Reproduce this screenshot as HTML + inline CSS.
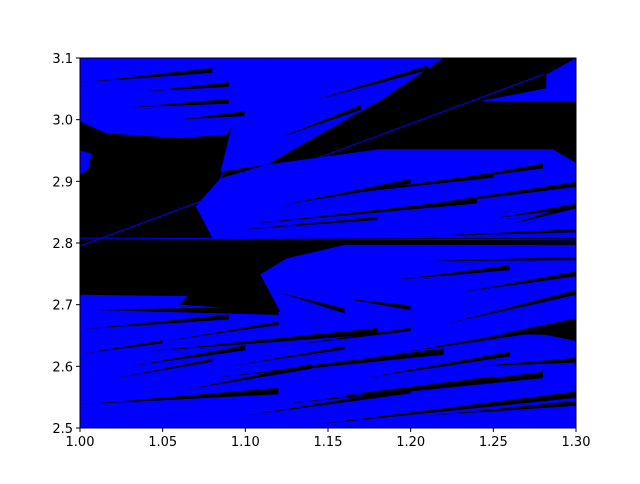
<!DOCTYPE html>
<html><head><meta charset="utf-8"><style>
body{margin:0;background:#fff;width:640px;height:480px;overflow:hidden;font-family:"DejaVu Sans","Liberation Sans",sans-serif}
svg text{font-family:"DejaVu Sans","Liberation Sans",sans-serif;font-size:13px;fill:#000}
</style></head><body>
<svg id="chart" width="640" height="480" xmlns="http://www.w3.org/2000/svg"></svg>
<script>
const xTicks=[1.00,1.05,1.10,1.15,1.20,1.25,1.30];
const xTickLabels=["1.00","1.05","1.10","1.15","1.20","1.25","1.30"];
const yTicks=[2.5,2.6,2.7,2.8,2.9,3.0,3.1];
const yTickLabels=["2.5","2.6","2.7","2.8","2.9","3.0","3.1"];
const regionA=[[1.0,3.1],[1.113,3.1],[1.095,3.003],[1.089,2.976],[1.06,2.97],[1.016,2.978],[1.0,2.997]];
const regionB=[[1.093,3.003],[1.113,3.1],[1.22,3.1],[1.181,3.03],[1.141,2.97],[1.113,2.927],[1.085,2.916]];
const regionC=[[1.07,2.86],[1.085,2.905],[1.113,2.927],[1.181,2.952],[1.286,2.952],[1.3,2.93],[1.3,2.808],[1.08,2.808]];
const regionD=[[1.109,2.749],[1.125,2.775],[1.16,2.797],[1.3,2.797],[1.3,2.678],[1.252,2.651],[1.202,2.657],[1.161,2.668],[1.121,2.689]];
const regionE=[[1.0,2.716],[1.065,2.714],[1.06,2.7],[1.121,2.689],[1.202,2.657],[1.282,2.651],[1.3,2.641],[1.3,2.5],[1.0,2.5]];
const regionF=[[1.282,3.073],[1.3,3.1],[1.3,3.03],[1.242,3.03],[1.282,3.051]];
const regionG=[[1.0,2.95],[1.007,2.945],[1.005,2.92],[1.0,2.91]];
const regions=[regionA,regionB,regionC,regionD,regionE,regionF,regionG];
const streakX0=[1.0,1.04,1.08,1.12,1.0,1.14,1.22,1.1,1.18,1.14,1.04,1.15,1.0,1.03,1.06,1.10,1.15,1.19,1.02,1.09,1.17,1.24,1.0,1.05,1.13,1.21,1.12,1.16,1.22,1.26,1.19,1.23,1.12,1.16,1.2,1.0,1.03,1.06,1.12,1.16,1.2,1.25,1.09,1.2];
const streakY0=[2.692,2.624,2.581,2.538,2.538,2.505,2.668,2.83,2.851,3.03,3.046,2.96,2.66,2.6,2.56,2.52,2.55,2.62,2.58,2.6,2.58,2.6,2.62,2.64,2.635,2.52,2.86,2.88,2.9,2.83,2.74,2.72,2.72,2.71,2.77,3.06,3.02,3.0,2.97,3.0,3.06,2.84,2.82,2.81];
const streakX1=[1.12,1.18,1.22,1.28,1.12,1.3,1.3,1.24,1.3,1.21,1.09,1.22,1.09,1.1,1.14,1.2,1.25,1.28,1.08,1.16,1.26,1.3,1.05,1.12,1.2,1.3,1.2,1.25,1.28,1.3,1.26,1.3,1.16,1.2,1.3,1.08,1.09,1.1,1.17,1.2,1.23,1.3,1.18,1.3];
const streakY1=[2.69,2.657,2.624,2.586,2.56,2.554,2.72,2.868,2.895,3.084,3.057,3.0,2.68,2.63,2.6,2.56,2.58,2.66,2.61,2.63,2.62,2.61,2.64,2.67,2.66,2.54,2.9,2.91,2.925,2.86,2.76,2.75,2.69,2.695,2.775,3.08,3.03,3.01,3.02,3.05,3.09,2.86,2.84,2.82];
const streakW=[5,4,4,4,4,4,3,3,3,3,3,3,3,3,3,3,3,3,2,2,3,3,2,2,2,3,3,3,3,3,3,3,3,3,2,3,3,3,3,3,3,3,2,2];
const lineX0=[1.0,1.0,1.08];
const lineY0=[2.795,2.808,2.87];
const lineX1=[1.28,1.3,1.113];
const lineY1=[3.073,2.805,3.1];
const L=80,R=576,T=58,B=428;
const sx=v=>L+(v-1.0)/(0.3)*(R-L);
const sy=v=>B-(v-2.5)/(0.6)*(B-T);
const NS="http://www.w3.org/2000/svg";
const svg=document.getElementById('chart');
function mk(t,a){const e=document.createElementNS(NS,t);for(const k in a)e.setAttribute(k,a[k]);svg.appendChild(e);return e;}
const clip=mk('clipPath',{id:'pc'});
const cr=document.createElementNS(NS,'rect');cr.setAttribute('x',L);cr.setAttribute('y',T);cr.setAttribute('width',R-L);cr.setAttribute('height',B-T);clip.appendChild(cr);
const bg=mk('rect',{x:L,y:T,width:R-L,height:B-T,fill:'#000'});


const g=mk('g',{'clip-path':'url(#pc)'});


function mg(t,a){const e=document.createElementNS(NS,t);for(const k in a)e.setAttribute(k,a[k]);g.appendChild(e);return e;}
regions.forEach((r,i)=>{
  const p=mg('polygon',{points:r.map(q=>sx(q[0])+','+sy(q[1])).join(' '),fill:'#0000ff'});
  
  
});
streakX0.forEach((v,i)=>{
  const x1=sx(v),y1=sy(streakY0[i]),x2=sx(streakX1[i]),y2=sy(streakY1[i]),w=streakW[i]*1.6;
  const p=mg('polygon',{points:`${x1},${y1} ${x2},${y2-w/2} ${x2},${y2+w/2}`,fill:'#000'});
  
  
});
lineX0.forEach((v,i)=>{
  const l=mg('line',{x1:sx(v),y1:sy(lineY0[i]),x2:sx(lineX1[i]),y2:sy(lineY1[i]),stroke:'#0000ff','stroke-width':1});
  
  
});
const fr=mk('rect',{x:L,y:T,width:R-L,height:B-T,fill:'none',stroke:'#000','stroke-width':1});


xTicks.forEach((v,i)=>{
  const t=mk('line',{x1:sx(v),y1:B,x2:sx(v),y2:B+4,stroke:'#000'});
  
  
  const tx=mk('text',{x:sx(v),y:B+18,'text-anchor':'middle'});tx.textContent=xTickLabels[i];
  
  
});
yTicks.forEach((v,i)=>{
  const t=mk('line',{x1:L-4,y1:sy(v),x2:L,y2:sy(v),stroke:'#000'});
  
  
  const tx=mk('text',{x:L-7,y:sy(v)+5,'text-anchor':'end'});tx.textContent=yTickLabels[i];
  
  
});
</script>
</body></html>
